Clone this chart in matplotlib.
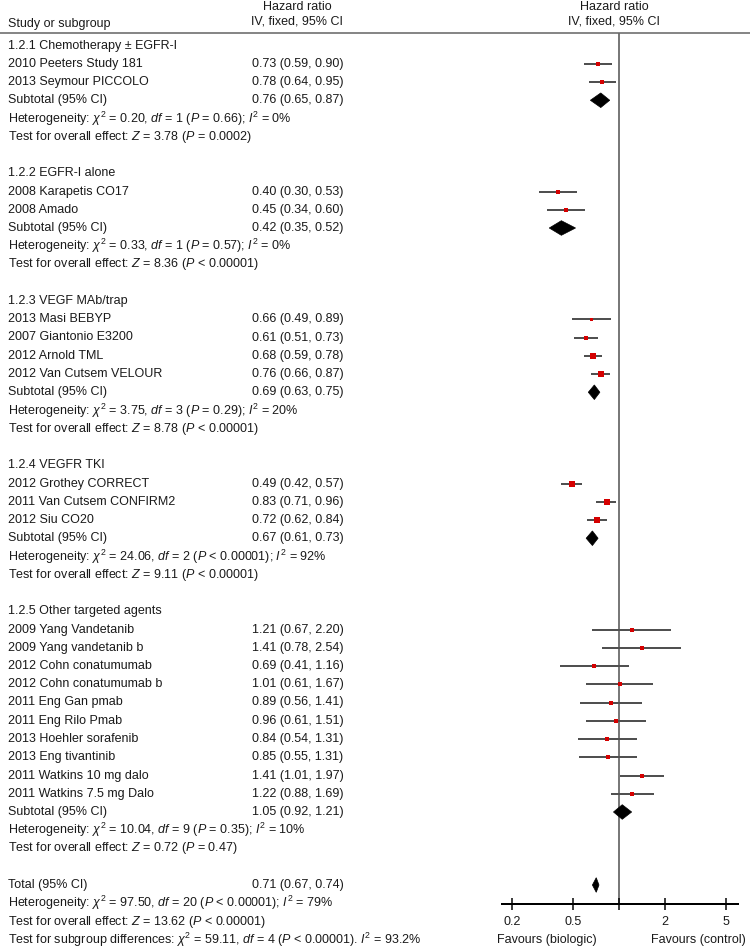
import matplotlib
matplotlib.use("Agg")
import matplotlib.pyplot as plt
from matplotlib.patches import Polygon

# ---------------- data ----------------
group_titles = ["1.2.1 Chemotherapy ± EGFR-I", "1.2.2 EGFR-I alone", "1.2.3 VEGF MAb/trap",
                "1.2.4 VEGFR TKI", "1.2.5 Other targeted agents"]

study_names = [
    ["2010 Peeters Study 181", "2013 Seymour PICCOLO"],
    ["2008 Karapetis CO17", "2008 Amado"],
    ["2013 Masi BEBYP", "2007 Giantonio E3200", "2012 Arnold TML", "2012 Van Cutsem VELOUR"],
    ["2012 Grothey CORRECT", "2011 Van Cutsem CONFIRM2", "2012 Siu CO20"],
    ["2009 Yang Vandetanib", "2009 Yang vandetanib b", "2012 Cohn conatumumab",
     "2012 Cohn conatumumab b", "2011 Eng Gan pmab", "2011 Eng Rilo Pmab",
     "2013 Hoehler sorafenib", "2013 Eng tivantinib", "2011 Watkins 10 mg dalo",
     "2011 Watkins 7.5 mg Dalo"],
]
study_hr = [[0.73, 0.78], [0.40, 0.45], [0.66, 0.61, 0.68, 0.76], [0.49, 0.83, 0.72],
            [1.21, 1.41, 0.69, 1.01, 0.89, 0.96, 0.84, 0.85, 1.41, 1.22]]
study_lo = [[0.59, 0.64], [0.30, 0.34], [0.49, 0.51, 0.59, 0.66], [0.42, 0.71, 0.62],
            [0.67, 0.78, 0.41, 0.61, 0.56, 0.61, 0.54, 0.55, 1.01, 0.88]]
study_hi = [[0.90, 0.95], [0.53, 0.60], [0.89, 0.73, 0.78, 0.87], [0.57, 0.96, 0.84],
            [2.20, 2.54, 1.16, 1.67, 1.41, 1.51, 1.31, 1.31, 1.97, 1.69]]

sub_hr = [0.76, 0.42, 0.69, 0.67, 1.05]
sub_lo = [0.65, 0.35, 0.63, 0.61, 0.92]
sub_hi = [0.87, 0.52, 0.75, 0.73, 1.21]

het_chi2 = ["0.20", "0.33", "3.75", "24.06", "10.04"]
het_df = ["1", "1", "3", "2", "9"]
het_p = ["= 0.66", "= 0.57", "= 0.29", "< 0.00001", "= 0.35"]
het_i2 = ["0%", "0%", "20%", "92%", "10%"]
eff_z = ["3.78", "8.36", "8.78", "9.11", "0.72"]
eff_p = ["= 0.0002", "< 0.00001", "< 0.00001", "< 0.00001", "= 0.47"]

total_hr, total_lo, total_hi = 0.71, 0.67, 0.74
total_het = ("97.50", "20", "< 0.00001", "79%")
total_eff = ("13.62", "< 0.00001")
subgroup_diff = ("59.11", "4", "< 0.00001", "93.2%")

tick_values = [0.2, 0.5, 1, 2, 5]
tick_labels = ["0.2", "0.5", "", "2", "5"]

# ---------------- style ----------------
plt.rcParams['font.family'] = ['Liberation Sans', 'DejaVu Sans']
plt.rcParams['mathtext.fontset'] = 'custom'
plt.rcParams['mathtext.rm'] = 'Liberation Sans'
plt.rcParams['mathtext.it'] = 'Liberation Sans:italic'
plt.rcParams['mathtext.bf'] = 'Liberation Sans:bold'
FS = 9
TXT = '#1a1a1a'
# marker sizes (px) of the study squares
marker_px = [[4.5, 4.5], [3.5, 3.5], [3, 4, 5.5, 5.5], [5.5, 5.5, 5.5],
             [3.2, 3.2, 3.2, 3.2, 3.2, 3.2, 3.2, 3.2, 3.2, 3.2]]

W, H = 750, 951
Y0, P = 45.5, 18.25          # pixel y of row 0 and row pitch
X_ONE, PPD = 619, 153        # pixel x of HR=1 and pixels per decade
AX_L, AX_R, AX_TOP, AX_BOT = 502, 738, 33, 904
PT = 0.72                    # points per pixel

def ypx(r):
    return Y0 + P * r

fig = plt.figure(figsize=(W / 100, H / 100), dpi=100)
ax = fig.add_axes([0, 0, 1, 1])
ax.set_xlim(0, W)
ax.set_ylim(H, 0)
ax.axis('off')

fx = fig.add_axes([AX_L / W, 1 - AX_BOT / H, (AX_R - AX_L) / W, (AX_BOT - AX_TOP) / H])
fx.set_xscale('log')
fx.set_xlim(10 ** ((AX_L - X_ONE) / PPD), 10 ** ((AX_R - X_ONE) / PPD))
fx.set_ylim((AX_BOT - Y0) / P, (AX_TOP - Y0) / P)
fx.patch.set_alpha(0)
for s in ['top', 'left', 'right']:
    fx.spines[s].set_visible(False)
fx.spines['bottom'].set_linewidth(2 * PT)
fx.set_yticks([])
fx.set_xticks(tick_values)
fx.set_xticklabels(tick_labels, fontsize=FS, color=TXT)
fx.minorticks_off()
fx.tick_params(axis='x', which='major', direction='inout', length=9, width=1.5 * PT, pad=4)
fx.axvline(1, color='#6a6a6a', lw=1.8 * PT, zorder=1)

# header
ax.plot([0, W], [AX_TOP, AX_TOP], color='#6a6a6a', lw=1.6 * PT)
ax.text(8, 24, "Study or subgroup", fontsize=FS, va='center', ha='left', color=TXT)
for cx in (297, 614):
    ax.text(cx, 7, "Hazard ratio", fontsize=FS, va='center', ha='center', color=TXT)
    ax.text(cx, 21, "IV, fixed, 95% CI", fontsize=FS, va='center', ha='center', color=TXT)

NAME_X, VAL_X = 8, 252

def het_str(chi2, df, p, i2, prefix="Heterogeneity: ", sep="; "):
    return prefix + r"$\chi^2$ = " + chi2 + r", $df$ = " + df + r" ($P$ " + p + ")" + sep + r"$I^2$ = " + i2

def eff_str(z, p):
    return r"Test for overall effect: $Z$ = " + z + r" ($P$ " + p + ")"

def diamond(center, lo, hi, row, half=0.4):
    poly = Polygon([(lo, row), (center, row - half), (hi, row), (center, row + half)],
                   closed=True, facecolor='black', edgecolor='black', lw=0.5, zorder=4)
    fx.add_patch(poly)

row = 0
for g in range(len(group_titles)):
    ax.text(NAME_X, ypx(row), group_titles[g], fontsize=FS, va='center', color=TXT)
    row += 1
    for i, name in enumerate(study_names[g]):
        ax.text(NAME_X, ypx(row), name, fontsize=FS, va='center', color=TXT)
        ax.text(VAL_X, ypx(row), f"{study_hr[g][i]:.2f} ({study_lo[g][i]:.2f}, {study_hi[g][i]:.2f})",
                fontsize=FS, va='center', color=TXT)
        fx.plot([study_lo[g][i], study_hi[g][i]], [row, row], color='#505050', lw=2 * PT,
                solid_capstyle='butt', zorder=3)
        fx.plot([study_hr[g][i]], [row], marker='s', linestyle='none', color='#d40000',
                markersize=marker_px[g][i] * PT, markeredgewidth=0, zorder=5)
        row += 1
    ax.text(NAME_X, ypx(row), "Subtotal (95% CI)", fontsize=FS, va='center', color=TXT)
    ax.text(VAL_X, ypx(row), f"{sub_hr[g]:.2f} ({sub_lo[g]:.2f}, {sub_hi[g]:.2f})",
            fontsize=FS, va='center', color=TXT)
    diamond(sub_hr[g], sub_lo[g], sub_hi[g], row)
    row += 1
    ax.text(NAME_X, ypx(row), het_str(het_chi2[g], het_df[g], het_p[g], het_i2[g]),
            fontsize=FS, va='center', color=TXT)
    row += 1
    ax.text(NAME_X, ypx(row), eff_str(eff_z[g], eff_p[g]), fontsize=FS, va='center', color=TXT)
    row += 2

# total
ax.text(NAME_X, ypx(row), "Total (95% CI)", fontsize=FS, va='center', color=TXT)
ax.text(VAL_X, ypx(row), f"{total_hr:.2f} ({total_lo:.2f}, {total_hi:.2f})",
        fontsize=FS, va='center', color=TXT)
diamond(total_hr, total_lo, total_hi, row)
row += 1
ax.text(NAME_X, ypx(row), het_str(*total_het), fontsize=FS, va='center', color=TXT)
row += 1
ax.text(NAME_X, ypx(row), eff_str(*total_eff), fontsize=FS, va='center', color=TXT)
row += 1
ax.text(NAME_X, ypx(row), het_str(*subgroup_diff, prefix="Test for subgroup differences: ", sep=". "),
        fontsize=FS, va='center', color=TXT)
ax.text(547, ypx(row), "Favours (biologic)", fontsize=FS, va='center', ha='center', color=TXT)
ax.text(698, ypx(row), "Favours (control)", fontsize=FS, va='center', ha='center', color=TXT)

fig.savefig("out.png", dpi=100)
